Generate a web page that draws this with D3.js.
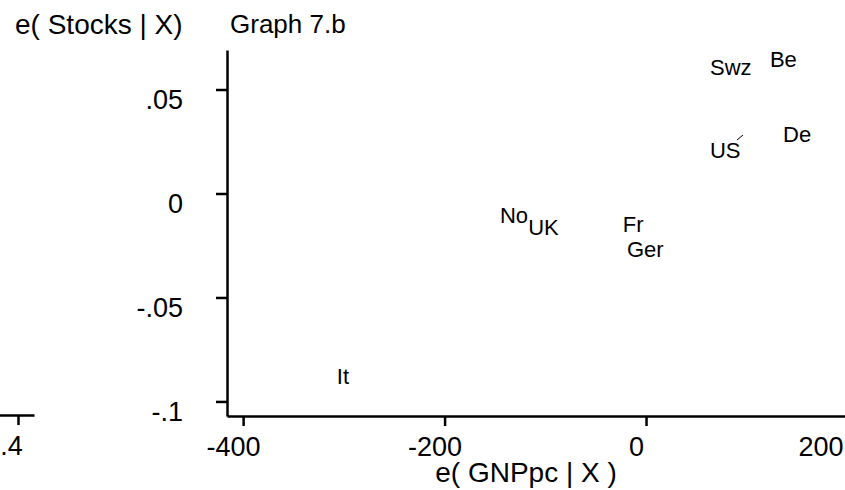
<!DOCTYPE html>
<html>
<head>
<meta charset="utf-8">
<script src="https://cdn.jsdelivr.net/npm/d3@7"></script>
<style>
  body { margin: 0; background: #fff; }
  text { font-family: "Liberation Sans", Arial, sans-serif; fill: #000; }
</style>
</head>
<body>
<div id="chart"></div>
<script>
// === Data (added-variable plot, Graph 7.b) ===
const countries = ["Be", "Swz", "De", "US", "No", "UK", "Fr", "Ger", "It"];
const eGNPpc    = [123, 63.5, 136, 63.5, -145, -117, -23, -19, -307];
const eStocks   = [0.0647, 0.0608, 0.0286, 0.0209, -0.0103, -0.0161, -0.0147, -0.0267, -0.0877];

const xTicks = [-400, -200, 0, 200];
const yTicks = [0.05, 0, -0.05, -0.1];
const leftPanelTicks = [0.4];   // remnant of the neighbouring graph

// Stata style: no leading zero, plain hyphen
const stataFmt = d => String(+d.toFixed(4)).replace(/^0\./, ".").replace(/^-0\./, "-.");

const W = 845, H = 490;
const svg = d3.select("#chart").append("svg")
  .attr("width", W)
  .attr("height", H);

const x = d3.scaleLinear().domain([-416, 202]).range([227, 849.5]);
const y = d3.scaleLinear().domain([-0.107, 0.069]).range([416, 50]);

function styleAxis(g) {
  g.select(".domain").attr("stroke", "#000").attr("stroke-width", 2.5);
  g.selectAll(".tick line").attr("stroke", "#000").attr("stroke-width", 2.5);
  g.selectAll(".tick text")
    .attr("font-family", "Liberation Sans, Arial, sans-serif")
    .attr("font-size", 27)
    .attr("fill", "#000");
}

// === Axes ===
const gx = svg.append("g")
  .attr("transform", `translate(0,${y(-0.107)})`)
  .call(d3.axisBottom(x).tickValues(xTicks).tickSize(10).tickSizeOuter(0).tickPadding(11).tickFormat(d => String(d)));
styleAxis(gx);
gx.selectAll(".tick text").attr("dx", -10);
// last label kept inside the frame
gx.selectAll(".tick text").filter(d => d === 200)
  .attr("text-anchor", "end")
  .attr("dx", 843 - x(200));

const gy = svg.append("g")
  .attr("transform", `translate(${x(-416)},0)`)
  .call(d3.axisLeft(y).tickValues(yTicks).tickSize(11).tickSizeOuter(0).tickPadding(33).tickFormat(stataFmt));
styleAxis(gy);
gy.selectAll(".tick text").attr("dy", "0.7em");

// left neighbour graph fragment
const xl = d3.scaleLinear().domain([0.38, 0.416]).range([-2, 34]);
const gl = svg.append("g")
  .attr("transform", `translate(0,${y(-0.107) - 1})`)
  .call(d3.axisBottom(xl).tickValues(leftPanelTicks).tickSize(10).tickSizeOuter(0).tickPadding(11).tickFormat(stataFmt));
styleAxis(gl);
gl.selectAll(".tick text").attr("dx", -7);

// === Marker labels ===
const pts = countries.map((c, i) => ({ c, gx: eGNPpc[i], st: eStocks[i] }));

svg.append("g").selectAll("text")
  .data(pts)
  .join("text")
  .attr("x", d => x(d.gx))
  .attr("y", d => y(d.st))
  .attr("dy", "0.36em")
  .attr("font-size", 22)
  .text(d => d.c);

// small stroke next to US
const us = pts.find(d => d.c === "US");
svg.append("line")
  .attr("x1", x(us.gx) + 27).attr("y1", y(us.st) - 10)
  .attr("x2", x(us.gx) + 33).attr("y2", y(us.st) - 15)
  .attr("stroke", "#000").attr("stroke-width", 1);

// === Titles ===
svg.append("text")
  .attr("x", 15).attr("y", 34)
  .attr("font-size", 28)
  .text("e( Stocks | X)");

svg.append("text")
  .attr("x", 230).attr("y", 33)
  .attr("font-size", 26)
  .text("Graph 7.b");

svg.append("text")
  .attr("x", 526).attr("y", 482)
  .attr("text-anchor", "middle")
  .attr("font-size", 28)
  .text("e( GNPpc | X )");
</script>
</body>
</html>
